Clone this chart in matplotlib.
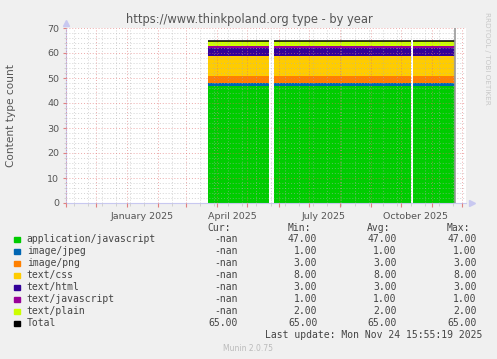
import datetime as dt
import numpy as np
import matplotlib
matplotlib.use("Agg")
from matplotlib import pyplot as plt
import matplotlib.dates as mdates
from matplotlib.ticker import MultipleLocator, NullFormatter
from matplotlib.transforms import blended_transform_factory

# series (stack order, bottom first)
names = ["application/javascript", "image/jpeg", "image/png", "text/css",
         "text/html", "text/javascript", "text/plain"]
values = [47, 1, 3, 8, 3, 1, 2]
colors = ["#00CC00", "#0066B3", "#FF8000", "#FFCC00", "#330099", "#990099", "#CCFF00"]
total = 65
# periods with data
segments = [(dt.date(2025, 3, 23), dt.date(2025, 5, 22)),
            (dt.date(2025, 5, 27), dt.date(2025, 10, 11)),
            (dt.date(2025, 10, 13), dt.date(2025, 11, 24))]
# legend stats
cur = ["-nan"] * 7 + ["65.00"]
mins = ["47.00", "1.00", "3.00", "8.00", "3.00", "1.00", "2.00", "65.00"]
avgs = mins
maxs = mins
label_months = [dt.date(2025, 1, 16), dt.date(2025, 4, 16), dt.date(2025, 7, 16), dt.date(2025, 10, 16)]
label_texts = ["January 2025", "April 2025", "July 2025", "October 2025"]

W, H = 497, 359
fig = plt.figure(figsize=(W / 100, H / 100), dpi=100)
fig.patch.set_facecolor("#F0F0F0")

def fx(px):
    return px / W

def fy(py):
    return 1 - py / H

ax = fig.add_axes([fx(66), fy(203), fx(466) - fx(66), fy(28) - fy(203)])
ax.set_facecolor("white")

x0 = mdates.date2num(dt.date(2024, 11, 1))
x1 = mdates.date2num(dt.date(2025, 12, 5))

for s, e in segments:
    xs = [mdates.date2num(s), mdates.date2num(e)]
    base = 0
    for v, c in zip(values, colors):
        ax.fill_between(xs, base, base + v, color=c, linewidth=0, zorder=2)
        base += v
    ax.plot(xs, [total, total], color="black", lw=1.1, zorder=4, solid_capstyle="butt")

ax.axvline(mdates.date2num(segments[-1][1]), color="#999999", lw=1.2, zorder=4)

# grid
month_starts = [mdates.date2num(dt.date(2024 + (10 + i) // 12, (10 + i) % 12 + 1, 1)) for i in range(14)]
biweekly = [mdates.date2num(dt.date(2024, 11, 9)) + 14 * i for i in range(28)]
ax.set_xticks(month_starts)
ax.set_xticks(biweekly, minor=True)
ax.xaxis.set_major_formatter(NullFormatter())
ax.yaxis.set_major_locator(MultipleLocator(10))
ax.yaxis.set_minor_locator(MultipleLocator(2))
ax.set_xlim(x0, x1)
ax.set_ylim(0, 70)
ax.grid(which="minor", color="#B0B0B0", alpha=0.55, linestyle=(0, (1, 2)), lw=0.7, zorder=3)
ax.grid(which="major", color="#E07070", alpha=0.6, linestyle=(0, (1, 2)), lw=0.7, zorder=3)
ax.set_axisbelow(False)

ax.tick_params(which="major", axis="x", length=3, color="#E08080", direction="out", labelsize=6.5)
ax.tick_params(which="minor", axis="x", length=2, color="#CCCCCC", direction="out")
ax.tick_params(which="major", axis="y", length=2, color="#E08080", labelsize=6.8,
               labelcolor="#555555", pad=3)
ax.tick_params(which="minor", axis="y", length=1.5, color="#CCCCCC")

for sp in ["top", "right"]:
    ax.spines[sp].set_visible(False)
for sp in ["left", "bottom"]:
    ax.spines[sp].set_color("#C8C8F0")
    ax.spines[sp].set_linewidth(0.8)
ax.plot([0], [1.03], marker="^", color="#C8C8F0", ms=4, transform=ax.transAxes, clip_on=False)
ax.plot([1.015], [0], marker=">", color="#C8C8F0", ms=4, transform=ax.transAxes, clip_on=False)
ax.set_xlim(x0, x1)
ax.set_ylim(0, 70)

tr = blended_transform_factory(ax.transData, ax.transAxes)
for d, t in zip(label_months, label_texts):
    ax.text(mdates.date2num(d), -0.05, t, transform=tr, ha="center", va="top",
            fontsize=6.8, color="#555555")

fig.text(fx(249), fy(19), "https://www.thinkpoland.org type - by year", ha="center",
         va="center", fontsize=8.3, color="#555555")
fig.text(fx(11), fy(115), "Content type count", rotation=90, ha="center", va="center",
         fontsize=7.6, color="#555555")
fig.text(fx(487), fy(58), "RRDTOOL / TOBI OETIKER", rotation=270, ha="center", va="center",
         fontsize=5.2, color="#C8C8C8")

mono = dict(family="DejaVu Sans Mono", fontsize=7, color="#444444", va="center")
col_right = [237.3, 317.3, 396.7, 476.7]
head_right = [230.7, 311, 390, 470]
for hx, h in zip(head_right, ["Cur:", "Min:", "Avg:", "Max:"]):
    fig.text(fx(hx), fy(228.3), h, ha="right", **mono)

leg_names = names + ["Total"]
leg_colors = colors + ["#000000"]
for i, (n, c) in enumerate(zip(leg_names, leg_colors)):
    yy = 239.3 + 12 * i
    fig.patches.append(plt.Rectangle((fx(14), fy(yy + 3)), fx(5.5), 5.5 / H,
                                     transform=fig.transFigure, color=c, figure=fig))
    fig.text(fx(26.7), fy(yy), n, ha="left", **mono)
    for cx, col in zip(col_right, [cur, mins, avgs, maxs]):
        fig.text(fx(cx), fy(yy), col[i], ha="right", **mono)

fig.text(fx(482.3), fy(335.3), "Last update: Mon Nov 24 15:55:19 2025", ha="right", **mono)
fig.text(fx(248), fy(348.3), "Munin 2.0.75", ha="center", va="center", fontsize=5.5,
         color="#BBBBBB")

fig.savefig("out.png", dpi=100, facecolor=fig.get_facecolor())
